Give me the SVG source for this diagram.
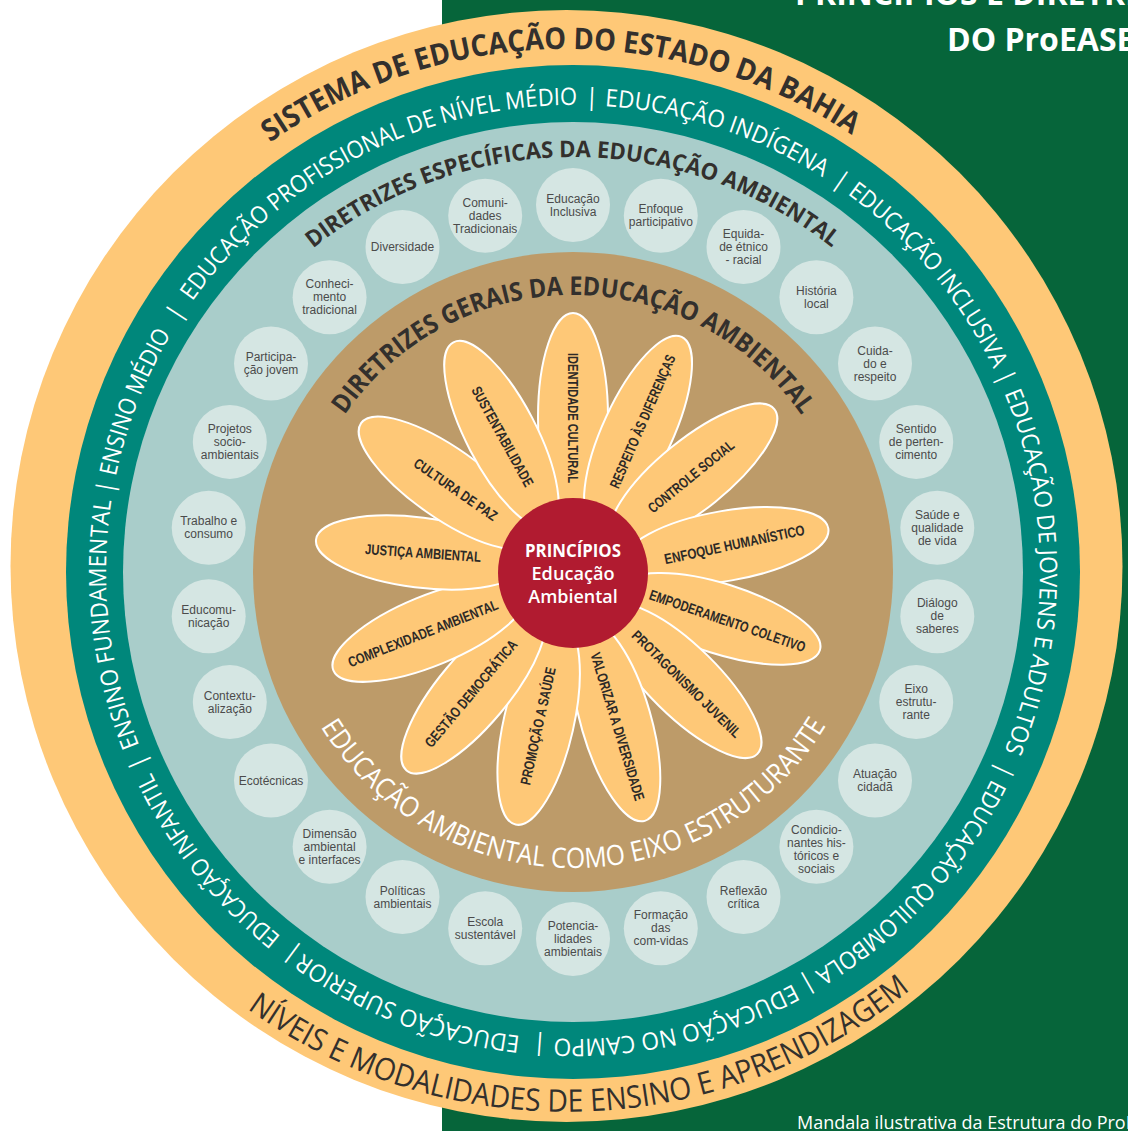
<svg xmlns="http://www.w3.org/2000/svg" width="1128" height="1131" viewBox="0 0 1128 1131">
<defs>
<style>
.ring{font-family:"Open Sans","Liberation Sans",sans-serif;font-size:24px;fill:#fff}
.pipe{text-anchor:middle}
.hd{font-family:"Open Sans","Liberation Sans",sans-serif;font-weight:700;fill:#33302d}
.petal{fill:#fec877;stroke:#fff;stroke-width:2}
.pt{font-family:"Liberation Sans","Open Sans",sans-serif;font-weight:700;font-size:14.5px;fill:#2d2a27;text-anchor:middle}
.dot{fill:#d5e6e3}
.ct{font-family:"Liberation Sans","Open Sans",sans-serif;font-size:12px;fill:#4b4b4b;text-anchor:middle}
.ttl{font-family:"Open Sans","Liberation Sans",sans-serif;font-weight:700;font-size:32px;fill:#fff}
</style>
<path id="pTeal" d="M1040 572A467 467 0 1 1 106 572A467 467 0 1 1 1040 572A467 467 0 1 1 106 572A467 467 0 1 1 1040 572"/>
<path id="pTop" d="M49.5 566A517 517 0 0 1 1083.5 566"/>
<path id="pBot" d="M20.5 566A546 546 0 0 0 1112.5 566"/>
<path id="pEsp" d="M158 572A415 415 0 0 1 988 572"/>
<path id="pGer" d="M296 572A277 277 0 0 1 850 572"/>
<path id="pEixo" d="M277 572A296 296 0 0 0 869 572"/>
</defs>

<g id="background">
<rect x="0" y="0" width="1128" height="1131" fill="#fff"/>
<rect x="442" y="0" width="686" height="1131" fill="#06653a"/>
<text class="ttl" x="795" y="5">PRINCÍPIOS E DIRETRIZES</text>
<text class="ttl" x="947" y="51">DO ProEASE</text>
<text x="797" y="1129" font-family="Open Sans, Liberation Sans, sans-serif" font-size="18" fill="#fff">Mandala ilustrativa da Estrutura do ProEASE</text>
</g>

<g id="rings">
<circle cx="566.5" cy="566" r="556" fill="#fec877"/>
<circle cx="573" cy="572" r="507" fill="#00877b"/>
<circle cx="573" cy="572" r="450" fill="#a9cdca"/>
<circle cx="573" cy="572" r="320" fill="#bd9b69"/>
</g>

<g id="ring-sistema">
<text class="hd" font-size="30"><textPath href="#pTop" startOffset="496.3" textLength="618.1" lengthAdjust="spacingAndGlyphs">SISTEMA DE EDUCAÇÃO DO ESTADO DA BAHIA</textPath></text>
<text font-family="Open Sans, Liberation Sans, sans-serif" font-size="31" fill="#33302d"><textPath href="#pBot" startOffset="516.5" textLength="712.8" lengthAdjust="spacingAndGlyphs">NÍVEIS E MODALIDADES DE ENSINO E APRENDIZAGEM</textPath></text>
</g>

<g id="ring-modalidades">
<text class="ring"><textPath href="#pTeal" startOffset="2493.3" textLength="230.7" lengthAdjust="spacingAndGlyphs">EDUCAÇÃO INCLUSIVA</textPath></text>
<text class="ring pipe"><textPath href="#pTeal" startOffset="2736.2">|</textPath></text>
<text class="ring"><textPath href="#pTeal" startOffset="2750" textLength="367.6" lengthAdjust="spacingAndGlyphs">EDUCAÇÃO DE JOVENS E ADULTOS</textPath></text>
<text class="ring pipe"><textPath href="#pTeal" startOffset="3135.6">|</textPath></text>
<text class="ring"><textPath href="#pTeal" startOffset="3147.8" textLength="265.7" lengthAdjust="spacingAndGlyphs">EDUCAÇÃO QUILOMBOLA</textPath></text>
<text class="ring pipe"><textPath href="#pTeal" startOffset="3424.9">|</textPath></text>
<text class="ring"><textPath href="#pTeal" startOffset="3437.9" textLength="248.6" lengthAdjust="spacingAndGlyphs">EDUCAÇÃO NO CAMPO</textPath></text>
<text class="ring pipe"><textPath href="#pTeal" startOffset="3700.4">|</textPath></text>
<text class="ring"><textPath href="#pTeal" startOffset="3720" textLength="234.7" lengthAdjust="spacingAndGlyphs">EDUCAÇÃO SUPERIOR</textPath></text>
<text class="ring pipe"><textPath href="#pTeal" startOffset="3963.7">|</textPath></text>
<text class="ring"><textPath href="#pTeal" startOffset="3982.4" textLength="211.1" lengthAdjust="spacingAndGlyphs">EDUCAÇÃO INFANTIL</textPath></text>
<text class="ring pipe"><textPath href="#pTeal" startOffset="4207.4">|</textPath></text>
<text class="ring"><textPath href="#pTeal" startOffset="4222.9" textLength="249.4" lengthAdjust="spacingAndGlyphs">ENSINO FUNDAMENTAL</textPath></text>
<text class="ring pipe"><textPath href="#pTeal" startOffset="4484.5">|</textPath></text>
<text class="ring"><textPath href="#pTeal" startOffset="4496.7" textLength="153.2" lengthAdjust="spacingAndGlyphs">ENSINO MÉDIO</textPath></text>
<text class="ring pipe"><textPath href="#pTeal" startOffset="4670.4">|</textPath></text>
<text class="ring"><textPath href="#pTeal" startOffset="4689.1" textLength="449.1" lengthAdjust="spacingAndGlyphs">EDUCAÇÃO PROFISSIONAL DE NÍVEL MÉDIO</textPath></text>
<text class="ring pipe"><textPath href="#pTeal" startOffset="5152.9">|</textPath></text>
<text class="ring"><textPath href="#pTeal" startOffset="5165.9" textLength="231.5" lengthAdjust="spacingAndGlyphs">EDUCAÇÃO INDÍGENA</textPath></text>
<text class="ring pipe"><textPath href="#pTeal" startOffset="5414.5">|</textPath></text>
</g>

<g id="ring-especificas">
<text class="hd" font-size="23"><textPath href="#pEsp" startOffset="370.8" textLength="560.6" lengthAdjust="spacingAndGlyphs">DIRETRIZES ESPECÍFICAS DA EDUCAÇÃO AMBIENTAL</textPath></text>
</g>

<g id="c-educacao-inclusiva"><circle class="dot" cx="573" cy="205" r="37"/><text class="ct" x="573"><tspan y="202.5">Educação</tspan><tspan x="573" y="215.5">Inclusiva</tspan></text></g>
<g id="c-enfoque"><circle class="dot" cx="660.8" cy="215.7" r="37"/><text class="ct" x="660.8"><tspan y="213.2">Enfoque</tspan><tspan x="660.8" y="226.2">participativo</tspan></text></g>
<g id="c-equidade"><circle class="dot" cx="743.5" cy="247" r="37"/><text class="ct" x="743.5"><tspan y="238">Equida-</tspan><tspan x="743.5" y="251">de étnico</tspan><tspan x="743.5" y="264">- racial</tspan></text></g>
<g id="c-historia"><circle class="dot" cx="816.4" cy="297.3" r="37"/><text class="ct" x="816.4"><tspan y="294.8">História</tspan><tspan x="816.4" y="307.8">local</tspan></text></g>
<g id="c-cuidado"><circle class="dot" cx="875" cy="363.5" r="37"/><text class="ct" x="875"><tspan y="354.5">Cuida-</tspan><tspan x="875" y="367.5">do e</tspan><tspan x="875" y="380.5">respeito</tspan></text></g>
<g id="c-sentido"><circle class="dot" cx="916.2" cy="441.9" r="37"/><text class="ct" x="916.2"><tspan y="432.9">Sentido</tspan><tspan x="916.2" y="445.9">de perten-</tspan><tspan x="916.2" y="458.9">cimento</tspan></text></g>
<g id="c-saude"><circle class="dot" cx="937.3" cy="527.8" r="37"/><text class="ct" x="937.3"><tspan y="518.8">Saúde e</tspan><tspan x="937.3" y="531.8">qualidade</tspan><tspan x="937.3" y="544.8">de vida</tspan></text></g>
<g id="c-dialogo"><circle class="dot" cx="937.3" cy="616.2" r="37"/><text class="ct" x="937.3"><tspan y="607.2">Diálogo</tspan><tspan x="937.3" y="620.2">de</tspan><tspan x="937.3" y="633.2">saberes</tspan></text></g>
<g id="c-eixo"><circle class="dot" cx="916.2" cy="702.1" r="37"/><text class="ct" x="916.2"><tspan y="693.1">Eixo</tspan><tspan x="916.2" y="706.1">estrutu-</tspan><tspan x="916.2" y="719.1">rante</tspan></text></g>
<g id="c-atuacao"><circle class="dot" cx="875" cy="780.5" r="37"/><text class="ct" x="875"><tspan y="778">Atuação</tspan><tspan x="875" y="791">cidadã</tspan></text></g>
<g id="c-condicionantes"><circle class="dot" cx="816.4" cy="846.7" r="37"/><text class="ct" x="816.4"><tspan y="833.7">Condicio-</tspan><tspan x="816.4" y="846.7">nantes his-</tspan><tspan x="816.4" y="859.7">tóricos e</tspan><tspan x="816.4" y="872.7">sociais</tspan></text></g>
<g id="c-reflexao"><circle class="dot" cx="743.5" cy="897" r="37"/><text class="ct" x="743.5"><tspan y="894.5">Reflexão</tspan><tspan x="743.5" y="907.5">crítica</tspan></text></g>
<g id="c-formacao"><circle class="dot" cx="660.8" cy="928.3" r="37"/><text class="ct" x="660.8"><tspan y="919.3">Formação</tspan><tspan x="660.8" y="932.3">das</tspan><tspan x="660.8" y="945.3">com-vidas</tspan></text></g>
<g id="c-potencialidades"><circle class="dot" cx="573" cy="939" r="37"/><text class="ct" x="573"><tspan y="930">Potencia-</tspan><tspan x="573" y="943">lidades</tspan><tspan x="573" y="956">ambientais</tspan></text></g>
<g id="c-escola"><circle class="dot" cx="485.2" cy="928.3" r="37"/><text class="ct" x="485.2"><tspan y="925.8">Escola</tspan><tspan x="485.2" y="938.8">sustentável</tspan></text></g>
<g id="c-politicas"><circle class="dot" cx="402.5" cy="897" r="37"/><text class="ct" x="402.5"><tspan y="894.5">Políticas</tspan><tspan x="402.5" y="907.5">ambientais</tspan></text></g>
<g id="c-dimensao"><circle class="dot" cx="329.6" cy="846.7" r="37"/><text class="ct" x="329.6"><tspan y="837.7">Dimensão</tspan><tspan x="329.6" y="850.7">ambiental</tspan><tspan x="329.6" y="863.7">e interfaces</tspan></text></g>
<g id="c-ecotecnicas"><circle class="dot" cx="271" cy="780.5" r="37"/><text class="ct" x="271" y="784.5">Ecotécnicas</text></g>
<g id="c-contextualizacao"><circle class="dot" cx="229.8" cy="702.1" r="37"/><text class="ct" x="229.8"><tspan y="699.6">Contextu-</tspan><tspan x="229.8" y="712.6">alização</tspan></text></g>
<g id="c-educomunicacao"><circle class="dot" cx="208.7" cy="616.2" r="37"/><text class="ct" x="208.7"><tspan y="613.7">Educomu-</tspan><tspan x="208.7" y="626.7">nicação</tspan></text></g>
<g id="c-trabalho"><circle class="dot" cx="208.7" cy="527.8" r="37"/><text class="ct" x="208.7"><tspan y="525.3">Trabalho e</tspan><tspan x="208.7" y="538.3">consumo</tspan></text></g>
<g id="c-projetos"><circle class="dot" cx="229.8" cy="441.9" r="37"/><text class="ct" x="229.8"><tspan y="432.9">Projetos</tspan><tspan x="229.8" y="445.9">socio-</tspan><tspan x="229.8" y="458.9">ambientais</tspan></text></g>
<g id="c-participacao"><circle class="dot" cx="271" cy="363.5" r="37"/><text class="ct" x="271"><tspan y="361">Participa-</tspan><tspan x="271" y="374">ção jovem</tspan></text></g>
<g id="c-conhecimento"><circle class="dot" cx="329.6" cy="297.3" r="37"/><text class="ct" x="329.6"><tspan y="288.3">Conheci-</tspan><tspan x="329.6" y="301.3">mento</tspan><tspan x="329.6" y="314.3">tradicional</tspan></text></g>
<g id="c-diversidade"><circle class="dot" cx="402.5" cy="247" r="37"/><text class="ct" x="402.5" y="251">Diversidade</text></g>
<g id="c-comunidades"><circle class="dot" cx="485.2" cy="215.7" r="37"/><text class="ct" x="485.2"><tspan y="206.7">Comuni-</tspan><tspan x="485.2" y="219.7">dades</tspan><tspan x="485.2" y="232.7">Tradicionais</tspan></text></g>

<g id="ring-gerais">
<text class="hd" font-size="26"><textPath href="#pGer" startOffset="166.8" textLength="536.6" lengthAdjust="spacingAndGlyphs">DIRETRIZES GERAIS DA EDUCAÇÃO AMBIENTAL</textPath></text>
<text font-family="Open Sans, Liberation Sans, sans-serif" font-size="28" fill="#fff"><textPath href="#pEixo" startOffset="162.7" textLength="605.5" lengthAdjust="spacingAndGlyphs">EDUCAÇÃO AMBIENTAL COMO EIXO ESTRUTURANTE</textPath></text>
</g>

<g id="p-identidade"><ellipse class="petal" cx="728" cy="572" rx="104" ry="35" transform="rotate(-90 573 572)"/><text class="pt" transform="translate(573 418) rotate(90)" y="5" textLength="130" lengthAdjust="spacingAndGlyphs">IDENTIDADE CULTURAL</text></g>
<g id="p-respeito"><ellipse class="petal" cx="728" cy="572" rx="104" ry="35" transform="rotate(-65.2 573 572)"/><text class="pt" transform="translate(642.5 421.5) rotate(-66.5)" y="5" textLength="144" lengthAdjust="spacingAndGlyphs">RESPEITO ÀS DIFERENÇAS</text></g>
<g id="p-controle"><ellipse class="petal" cx="728" cy="572" rx="104" ry="35" transform="rotate(-39 573 572)"/><text class="pt" transform="translate(691 476.5) rotate(-39)" y="5" textLength="106" lengthAdjust="spacingAndGlyphs">CONTROLE SOCIAL</text></g>
<g id="p-enfoque"><ellipse class="petal" cx="728" cy="572" rx="104" ry="35" transform="rotate(-9.7 573 572)"/><text class="pt" transform="translate(734.5 544.5) rotate(-12)" y="5" textLength="143" lengthAdjust="spacingAndGlyphs">ENFOQUE HUMANÍSTICO</text></g>
<g id="p-empoderamento"><ellipse class="petal" cx="728" cy="572" rx="104" ry="35" transform="rotate(17.6 573 572)"/><text class="pt" transform="translate(727.5 621) rotate(19)" y="5" textLength="164" lengthAdjust="spacingAndGlyphs">EMPODERAMENTO COLETIVO</text></g>
<g id="p-protagonismo"><ellipse class="petal" cx="728" cy="572" rx="104" ry="35" transform="rotate(44.6 573 572)"/><text class="pt" transform="translate(686.5 684) rotate(44.4)" y="5" textLength="146" lengthAdjust="spacingAndGlyphs">PROTAGONISMO JUVENIL</text></g>
<g id="p-valorizar"><ellipse class="petal" cx="728" cy="572" rx="104" ry="35" transform="rotate(73.9 573 572)"/><text class="pt" transform="translate(617.5 726.5) rotate(73)" y="5" textLength="154" lengthAdjust="spacingAndGlyphs">VALORIZAR A DIVERSIDADE</text></g>
<g id="p-promocao"><ellipse class="petal" cx="728" cy="572" rx="104" ry="35" transform="rotate(102.8 573 572)"/><text class="pt" transform="translate(538 726) rotate(-77.5)" y="5" textLength="120" lengthAdjust="spacingAndGlyphs">PROMOÇÃO A SAÚDE</text></g>
<g id="p-gestao"><ellipse class="petal" cx="728" cy="572" rx="104" ry="35" transform="rotate(130 573 572)"/><text class="pt" transform="translate(471 693.5) rotate(-50)" y="5" textLength="135" lengthAdjust="spacingAndGlyphs">GESTÃO DEMOCRÁTICA</text></g>
<g id="p-complexidade"><ellipse class="petal" cx="728" cy="572" rx="104" ry="35" transform="rotate(157.7 573 572)"/><text class="pt" transform="translate(423 633.5) rotate(-21.5)" y="5" textLength="160" lengthAdjust="spacingAndGlyphs">COMPLEXIDADE AMBIENTAL</text></g>
<g id="p-justica"><ellipse class="petal" cx="728" cy="572" rx="104" ry="35" transform="rotate(187.2 573 572)"/><text class="pt" transform="translate(423 553) rotate(4)" y="5" textLength="116" lengthAdjust="spacingAndGlyphs">JUSTIÇA AMBIENTAL</text></g>
<g id="p-cultura"><ellipse class="petal" cx="728" cy="572" rx="104" ry="35" transform="rotate(215.1 573 572)"/><text class="pt" transform="translate(455.5 489.5) rotate(34.8)" y="5" textLength="98" lengthAdjust="spacingAndGlyphs">CULTURA DE PAZ</text></g>
<g id="p-sustentabilidade"><ellipse class="petal" cx="728" cy="572" rx="104" ry="35" transform="rotate(242.5 573 572)"/><text class="pt" transform="translate(502.5 436.5) rotate(61)" y="5" textLength="112" lengthAdjust="spacingAndGlyphs">SUSTENTABILIDADE</text></g>

<g id="center">
<circle cx="573" cy="573" r="75" fill="#b11b30"/>
<text x="573" y="557" text-anchor="middle" font-family="Open Sans, Liberation Sans, sans-serif" font-weight="700" font-size="17" fill="#fff" textLength="96" lengthAdjust="spacingAndGlyphs">PRINCÍPIOS</text>
<text x="573" y="580" text-anchor="middle" font-family="Open Sans, Liberation Sans, sans-serif" font-weight="600" font-size="18" fill="#fff" textLength="83" lengthAdjust="spacingAndGlyphs">Educação</text>
<text x="573" y="603" text-anchor="middle" font-family="Open Sans, Liberation Sans, sans-serif" font-weight="600" font-size="18" fill="#fff" textLength="89.5" lengthAdjust="spacingAndGlyphs">Ambiental</text>
</g>
</svg>
